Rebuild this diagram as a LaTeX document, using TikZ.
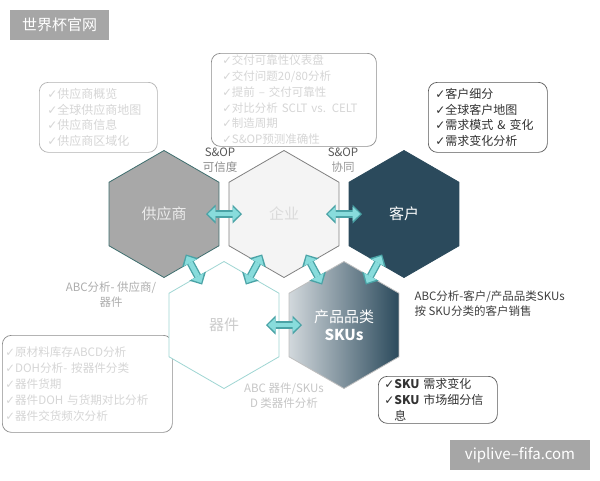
\documentclass[tikz,border=0pt]{standalone}
\usepackage{fontspec}
\setmainfont{Noto Sans CJK SC}
\newfontfamily\symfont{DejaVu Sans}
\usepackage{xcolor}
\usepackage{tikz}
\usetikzlibrary{shapes.geometric,arrows.meta}

\definecolor{supfill}{HTML}{A8A8A8}
\definecolor{supline}{HTML}{3E6E6E}
\definecolor{entfill}{HTML}{F4F4F4}
\definecolor{cusfill}{HTML}{2B4A5C}
\definecolor{compline}{HTML}{9FD6D3}
\definecolor{skuleft}{HTML}{D2D8DC}
\definecolor{linkfill}{HTML}{88DCDC}
\definecolor{linkdark}{HTML}{4AA3A6}
\definecolor{palegray}{HTML}{D6D6D6}
\definecolor{markgray}{HTML}{A6A6A6}

\newcommand{\ck}{{\symfont\char"2713}}

\tikzset{
  hexa/.style={regular polygon, regular polygon sides=6, shape border rotate=30,
    minimum size=127pt, inner sep=0pt, line width=0.8pt, align=center,
    font=\fontsize{15}{18}\selectfont},
  listbox/.style={draw, rounded corners=9pt, anchor=north west, align=left,
    inner ysep=3pt, line width=0.7pt, font=\fontsize{12}{15.6}\selectfont},
  note/.style={align=center, font=\fontsize{11.5}{15}\selectfont},
  linkout/.style={draw=linkdark, line width=7.5pt,
    {Triangle[length=9.5pt,width=19pt,line width=0pt]}-{Triangle[length=9.5pt,width=19pt,line width=0pt]}},
  linkin/.style={draw=linkfill, line width=4.8pt,
    {Triangle[length=7.5pt,width=14pt,line width=0pt]}-{Triangle[length=7.5pt,width=14pt,line width=0pt]}},
  wmark/.style={fill=markgray, text=white, inner sep=0pt, font=\fontsize{15}{17}\selectfont}
}

\begin{document}
\begin{tikzpicture}[x=1pt,y=-1pt]
    \fill[white] (0,0) rectangle (600,480);
    \useasboundingbox (0,0) rectangle (600,480);

    % check lists
    \node[listbox, draw=black!30, text=palegray, inner xsep=8pt, text width=102pt,
      minimum height=70pt] (suplist) at (39,82)
      {\ck 供应商概览\\\ck 全球供应商地图\\\ck 供应商信息\\\ck 供应商区域化};
    \node[listbox, draw=black!45, text=palegray, inner xsep=11pt, text width=143pt,
      minimum height=93pt, inner ysep=0pt, font=\fontsize{11.5}{15.8}\selectfont] (entlist) at (211,53)
      {\ck 交付可靠性仪表盘\\\ck 交付问题20/80分析\\\ck 提前 – 交付可靠性\\\ck 对比分析 SCLT vs. CELT\\\ck 制造周期\\\ck S\&OP预测准确性};
    \node[listbox, draw=black!65, text=black!80, inner xsep=7pt, text width=105pt,
      minimum height=70pt] (cuslist) at (428,82)
      {\ck 客户细分\\\ck 全球客户地图\\\ck 需求模式 \& 变化\\\ck 需求变化分析};
    \node[listbox, draw=black!45, text=palegray, inner xsep=3pt, text width=164pt,
      minimum height=97pt, font=\fontsize{11.6}{16}\selectfont] (complist) at (2,335)
      {\ck 原材料库存ABCD分析\\\ck DOH分析- 按器件分类\\\ck 器件货期\\\ck 器件DOH 与货期对比分析\\\ck 器件交货频次分析};
    \node[listbox, draw=black!65, text=black!80, inner xsep=6pt, text width=107pt,
      minimum height=47pt, inner ysep=1pt] (skulist) at (378,376)
      {\ck\textbf{SKU} 需求变化\\\ck\textbf{SKU} 市场细分信\\\phantom{\ck}息};

    % hexagons
    \node[hexa, fill=supfill, draw=supline, text=black!8] (sup) at (164,214) {供应商};
    \node[hexa, fill=entfill, draw=black!50, text=black!14] (ent) at (284,214) {企业};
    \node[hexa, fill=cusfill, draw=cusfill, text=white] (cus) at (404,214) {客户};
    \node[hexa, fill=white, draw=compline, text=black!20] (comp) at (224,325) {器件};
    \node[hexa, left color=skuleft, right color=cusfill, draw=black!25, text=white] (sku) at (344,325)
      {产品品类\\\textbf{SKUs}};

    % links between hexagons
    \foreach \a/\b/\s in {sup/ent/42pt, ent/cus/42pt, comp/sku/42pt,
                          sup/comp/46pt, ent/comp/46pt, ent/sku/46pt, cus/sku/46pt} {
      \draw[linkout, shorten <=\s, shorten >=\s] (\a.center) -- (\b.center);
      \draw[linkin, shorten <=\s+1.8pt, shorten >=\s+1.8pt] (\a.center) -- (\b.center);
    }

    % labels
    \node[note] (sop1) at (220,160) {\textcolor{black!65}{S\&OP}\\\textcolor{black!45}{可信度}};
    \node[note] (sop2) at (343,160) {\textcolor{black!65}{S\&OP}\\\textcolor{black!40}{协同}};
    \node[note, text=black!32] (abcsup) at (111,295) {ABC分析- 供应商/\\器件};
    \node[note, text=black!75, align=left, anchor=west] (abccus) at (411,304)
      {ABC分析-客户/产品品类SKUs\\按 SKU分类的客户销售};
    \node[note, text=black!22] (abccomp) at (284,396) {ABC 器件/SKUs\\D 类器件分析};

    % watermarks
    \node[wmark, minimum width=99pt, minimum height=30pt] (mark1) at (59.5,25) {世界杯官网};
    \node[wmark, minimum width=140pt, minimum height=30pt] (mark2) at (520,455) {viplive–fifa.com};
\end{tikzpicture}
\end{document}
